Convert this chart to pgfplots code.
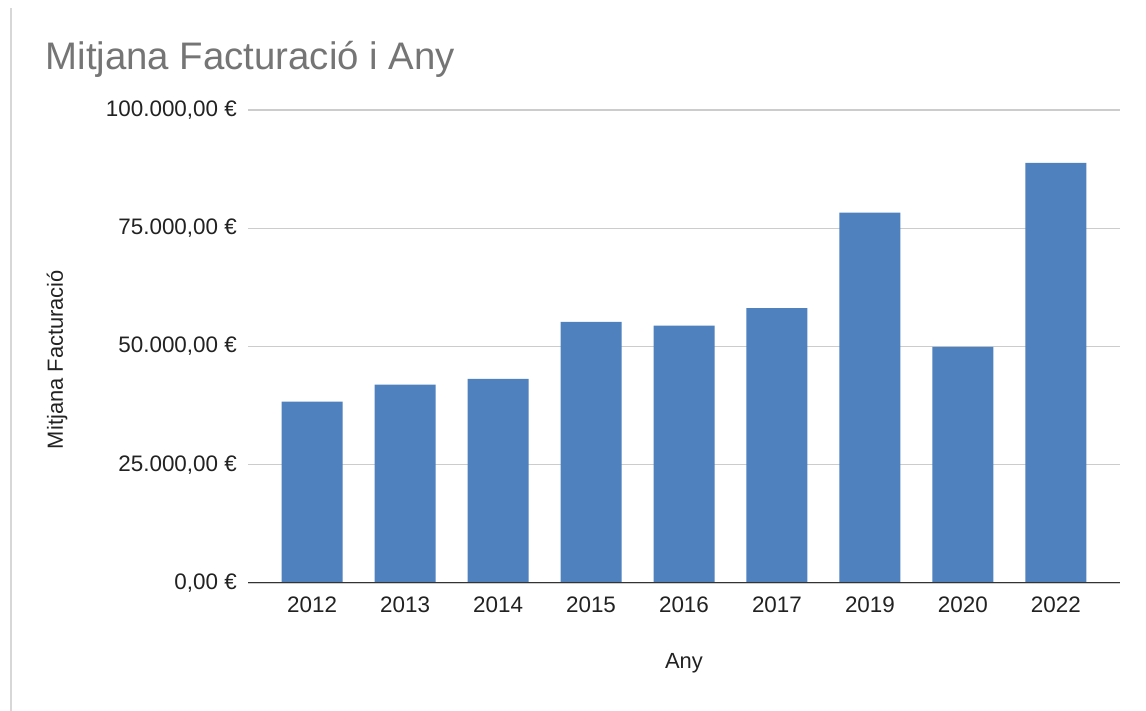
\documentclass[border=0pt]{standalone}
\usepackage{pgfplots}
\pgfplotsset{compat=1.18}
\usepackage{fontspec}
\setmainfont{Liberation Sans}
\definecolor{barblue}{RGB}{78,129,189}
\definecolor{titlegray}{RGB}{117,117,117}
\definecolor{textdark}{RGB}{34,34,34}
\definecolor{gridgray}{RGB}{204,204,204}
\definecolor{axisdark}{RGB}{51,51,51}
\definecolor{cardborder}{RGB}{215,215,215}
\begin{document}
\begin{tikzpicture}
\path[use as bounding box, fill=white] (0bp,0bp) rectangle (1146bp,711bp);
\fill[cardborder] (9.5bp,0bp) rectangle (12bp,703bp);
\node[anchor=base west, text=titlegray, font=\fontsize{38.5}{40}\selectfont, inner sep=0pt] at (45.5bp,641bp) {Mitjana Facturació i Any};
\begin{axis}[
  at={(248bp,128bp)}, anchor=south west,
  scale only axis, width=872bp, height=473bp,
  xmin=-0.69, xmax=8.69, ymin=0, ymax=100000,
  ybar, bar width=61bp, bar shift=0pt,
  xtick={0,...,8},
  xticklabels={2012,2013,2014,2015,2016,2017,2019,2020,2022},
  ytick={0,25000,50000,75000,100000},
  yticklabels={{0,00 €},{25.000,00 €},{50.000,00 €},{75.000,00 €},{100.000,00 €}},
  scaled y ticks=false,
  major tick length=0pt, tick style={draw=none},
  axis line style={draw=none},
  ymajorgrids, grid style={color=gridgray, line width=1.2bp},
  ticklabel style={font=\fontsize{22.5}{26}\selectfont, text=textdark, inner sep=0pt},
  yticklabel style={anchor=east, xshift=-11bp},
  xticklabel style={anchor=north, yshift=-14bp},
  xlabel={Any}, ylabel={Mitjana Facturació},
  label style={font=\fontsize{22}{26}\selectfont, text=textdark},
  xlabel style={at={([yshift=-80bp]axis description cs:0.5,0)}, anchor=center},
  ylabel style={at={([xshift=-191bp]axis description cs:0,0.4725)}, anchor=center},
]
\addplot[fill=barblue, draw=none] coordinates {
 (0,38330) (1,41930) (2,43130) (3,55200) (4,54400) (5,58100) (6,78300) (7,49900) (8,88800)
};
\draw[axisdark, line width=1.4bp] (rel axis cs:0,0) -- (rel axis cs:1,0);
\end{axis}
\end{tikzpicture}
\end{document}
